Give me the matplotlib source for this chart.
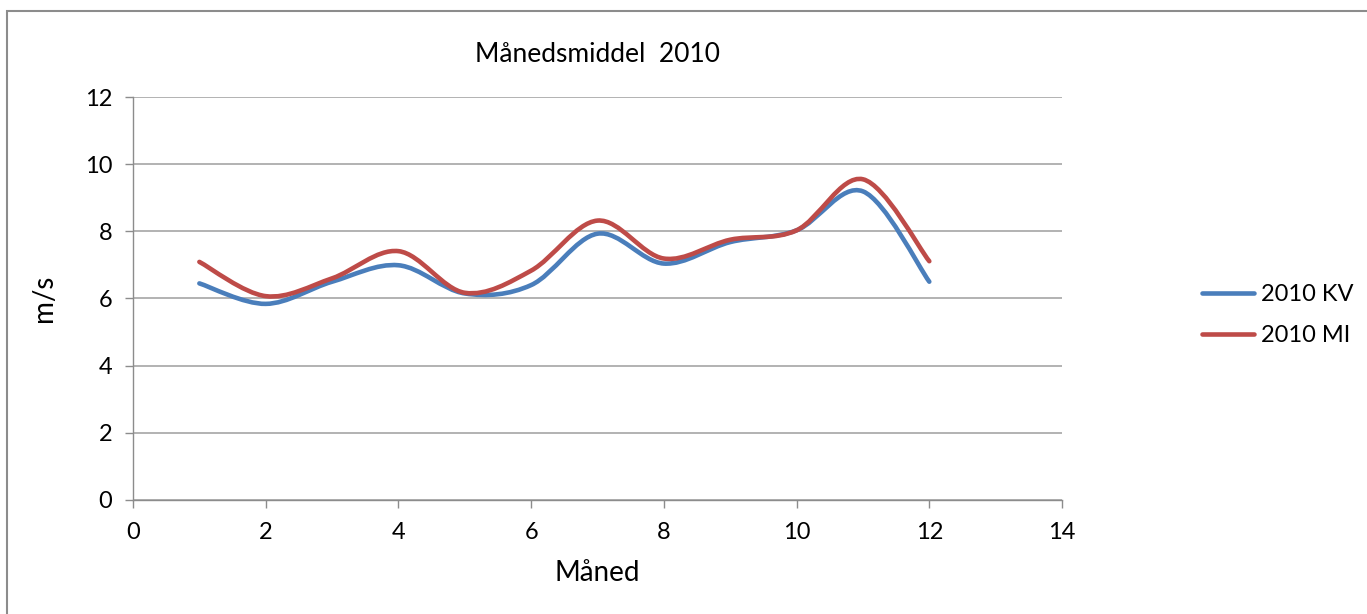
import matplotlib.pyplot as plt
import numpy as np
from matplotlib.path import Path
from matplotlib.patches import PathPatch, Rectangle
from matplotlib.lines import Line2D

plt.rcParams['font.family'] = ['Lato', 'DejaVu Sans']

months = [1, 2, 3, 4, 5, 6, 7, 8, 9, 10, 11, 12]
kv = [6.45, 5.84, 6.5, 6.99, 6.15, 6.4, 7.93, 7.04, 7.68, 8.03, 9.19, 6.5]
mi = [7.09, 6.07, 6.6, 7.41, 6.17, 6.83, 8.32, 7.19, 7.75, 8.03, 9.55, 7.11]
labels = ['2010 KV', '2010 MI']
colors = ['#4A7EBB', '#BE4B48']


# Excel style smoothed line: cubic bezier through the points
def smooth_path(x, y):
    pts = np.column_stack([x, y]).astype(float)
    verts = [pts[0]]
    codes = [Path.MOVETO]
    n = len(pts)
    for i in range(n - 1):
        p0 = pts[max(i - 1, 0)]
        p1 = pts[i]
        p2 = pts[i + 1]
        p3 = pts[min(i + 2, n - 1)]
        c1 = p1 + (p2 - p0) / 6.0
        c2 = p2 - (p3 - p1) / 6.0
        verts += [c1, c2, p2]
        codes += [Path.CURVE4] * 3
    return Path(verts, codes)


fig = plt.figure(figsize=(13.67, 6.14), dpi=100)
ax = fig.add_axes([0.0973, 0.1857, 0.6796, 0.6563])

for ys, c in zip([kv, mi], colors):
    patch = PathPatch(smooth_path(months, ys), facecolor='none', edgecolor=c,
                      lw=3.3, capstyle='round', joinstyle='round', zorder=3)
    ax.add_patch(patch)

ax.set_xlim(0, 14)
ax.set_ylim(0, 12)
ax.set_xticks(range(0, 15, 2))
ax.set_yticks(range(0, 13, 2))
ax.yaxis.grid(True, color='#a6a6a6', lw=1.2)
ax.set_axisbelow(True)
for s in ['top', 'right']:
    ax.spines[s].set_visible(False)
for s in ['left', 'bottom']:
    ax.spines[s].set_color('#8c8c8c')
    ax.spines[s].set_linewidth(1.0)
ax.tick_params(axis='both', colors='#8c8c8c', length=6, width=1.0,
               labelsize=17, labelcolor='black')
ax.tick_params(axis='x', pad=10)
ax.tick_params(axis='y', pad=9)

ax.set_xlabel('Måned', fontsize=20, labelpad=12)
ax.set_ylabel('m/s', fontsize=20, labelpad=20)
ax.set_title('Månedsmiddel  2010', fontsize=19, pad=25)

handles = [Line2D([], [], color=c, lw=3.3, solid_capstyle='round') for c in colors]
fig.legend(handles, labels, loc='center left', bbox_to_anchor=(0.8635, 0.487),
           frameon=False, fontsize=17, handlelength=2.2, handletextpad=0.3,
           labelspacing=0.85)

fig.patches.append(Rectangle((0.005, -0.1), 1.1, 1.082, transform=fig.transFigure,
                             fill=False, edgecolor='#8c8c8c', lw=1.5))

fig.savefig('out.png', dpi=100)
